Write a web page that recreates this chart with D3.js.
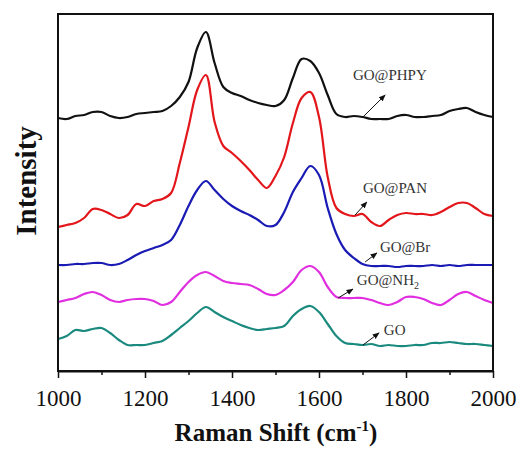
<!DOCTYPE html>
<html>
<head>
<meta charset="utf-8">
<script src="https://cdn.jsdelivr.net/npm/d3@7"></script>
<style>
  body { margin: 0; background: #fff; }
  svg text { font-family: "Liberation Serif", "Times New Roman", serif; }
</style>
</head>
<body>
<div id="chart"></div>
<script>
// Raman shift grid (cm-1)
const shift = [1000,1020,1040,1060,1080,1100,1120,1140,1160,1180,1200,1220,1240,1260,1280,1300,1320,1340,1360,1380,
  1400,1420,1440,1460,1480,1500,1520,1540,1560,1580,1600,1620,1640,1660,1680,1700,1720,1740,1760,1780,
  1800,1820,1840,1860,1880,1900,1920,1940,1960,1980,2000];

// intensities (arbitrary units, curves already offset as in the figure)
const phpy = [253,252,255,256,259,259,255,253,254,257,258,259,260,265,274,289,323,339,308,284,
  278,275,271,268,266,265,271,293,312,310,298,276,257,254,255,254,252,252,252,255,
  256,254,254,255,256,260,262,263,259,256,254];
const pan = [144,146,148,153,162,161,157,153,156,167,165,170,172,178,208,244,281,296,249,225,
  218,210,201,191,183,195,214,248,273,279,254,194,163,157,155,157,149,145,151,156,
  158,157,157,156,159,164,168,168,163,157,155];
const br = [106,106,107,107,108,108,106,107,111,116,120,123,126,131,146,165,181,190,181,172,
  165,160,156,151,145,146,159,179,193,205,196,163,137,121,113,107,105,105,105,104,
  105,105,105,106,105,106,105,106,106,106,106];
const nh2 = [69,71,73,77,79,76,71,69,71,72,72,70,66,69,79,89,96,99,95,90,
  88,87,86,82,77,76,81,89,101,105,99,84,74,73,73,73,71,68,66,69,
  74,74,72,68,66,71,77,79,75,71,68];
const go = [32,35,41,40,42,43,38,31,26,26,26,28,30,36,43,50,58,64,59,54,
  50,46,43,41,42,43,45,55,62,65,59,47,35,28,27,26,27,25,26,25,
  25,26,26,28,28,29,28,27,27,26,25];

const seriesNames = ["GO@PHPY", "GO@PAN", "GO@Br", "GO@NH2", "GO"];
const seriesColors = ["#111111", "#e3161b", "#1a1ab4", "#e02ee0", "#1b8a7e"];

// label anchor (shift, intensity) and arrow tail/head
const labelPos = [[1678,291],[1701,178],[1740,119],[1687,86],[1749,36]];
const arrowFrom = [[1701,254],[1683,156],[1706,109],[1644,73],[1701,26]];
const arrowTo = [[1752,276],[1710,169],[1733,118],[1678,82],[1738,38]];

const xTicks = [1000,1200,1400,1600,1800,2000];
const xMinor = [1100,1300,1500,1700,1900];

let width = 523;
let height = 450;
let margin = {left: 58, right: 30, top: 14, bottom: 79};

let x = d3.scaleLinear().domain([1000, 2000]).range([margin.left, width - margin.right]);
let y = d3.scaleLinear().domain([0, 357]).range([height - margin.bottom, margin.top]);

let viz = d3.select("#chart")
  .append("svg")
    .attr("width", width)
    .attr("height", height)
;

viz.append("defs").append("marker")
    .attr("id", "head")
    .attr("viewBox", "0 0 10 10")
    .attr("refX", 9)
    .attr("refY", 5)
    .attr("markerWidth", 7)
    .attr("markerHeight", 7)
    .attr("orient", "auto")
  .append("path")
    .attr("d", "M0,1 L10,5 L0,9 Z")
    .attr("fill", "#111")
;

let allSeries = [phpy, pan, br, nh2, go];

let line = d3.line()
  .x((d, i) => x(shift[i]))
  .y(d => y(d))
  .curve(d3.curveCatmullRom.alpha(0.5));

viz.selectAll("path.spec").data(allSeries)
  .enter()
    .append("path")
    .attr("class", "spec")
    .attr("d", line)
    .attr("fill", "none")
    .attr("stroke", (d, i) => seriesColors[i])
    .attr("stroke-width", 2.2)
    .attr("stroke-linejoin", "round")
;

// frame
viz.append("rect")
  .attr("x", x(1000))
  .attr("y", y(357))
  .attr("width", x(2000) - x(1000))
  .attr("height", y(0) - y(357))
  .attr("fill", "none")
  .attr("stroke", "#111")
  .attr("stroke-width", 2)
;

// x axis
let xAxis = d3.axisBottom(x).tickValues(xTicks).tickFormat(d3.format("d")).tickSize(7).tickSizeOuter(0).tickPadding(12);
let gx = viz.append("g")
  .attr("transform", "translate(0," + y(0) + ")")
  .attr("font-family", "Liberation Serif, serif")
  .call(xAxis);
gx.select(".domain").attr("stroke", "#111").attr("stroke-width", 2);
gx.selectAll(".tick line").attr("stroke", "#111").attr("stroke-width", 1.5);
gx.selectAll(".tick text")
  .attr("font-size", 23)
  .attr("fill", "#111")
  .attr("dy", "0.71em");

let xAxisMinor = d3.axisBottom(x).tickValues(xMinor).tickFormat("").tickSize(4).tickSizeOuter(0);
let gm = viz.append("g")
  .attr("transform", "translate(0," + y(0) + ")")
  .call(xAxisMinor);
gm.select(".domain").remove();
gm.selectAll(".tick line").attr("stroke", "#111").attr("stroke-width", 1.5);

// axis titles
let xt = viz.append("text")
  .attr("x", 276)
  .attr("y", 441)
  .attr("text-anchor", "middle")
  .attr("font-size", 25)
  .attr("font-weight", "bold")
  .attr("fill", "#111");
xt.append("tspan").text("Raman Shift (cm");
xt.append("tspan").attr("font-size", 15).attr("dy", -10).text("-1");
xt.append("tspan").attr("dy", 10).text(")");

viz.append("text")
  .attr("transform", "translate(36,181) rotate(-90)")
  .attr("text-anchor", "middle")
  .attr("font-size", 29)
  .attr("font-weight", "bold")
  .attr("fill", "#111")
  .text("Intensity");

// series labels with arrows
viz.selectAll("line.arrow").data(arrowFrom)
  .enter()
    .append("line")
    .attr("class", "arrow")
    .attr("x1", d => x(d[0]))
    .attr("y1", d => y(d[1]))
    .attr("x2", (d, i) => x(arrowTo[i][0]))
    .attr("y2", (d, i) => y(arrowTo[i][1]))
    .attr("stroke", "#111")
    .attr("stroke-width", 1)
    .attr("marker-end", "url(#head)")
;

let labels = viz.selectAll("text.lab").data(labelPos)
  .enter()
    .append("text")
    .attr("class", "lab")
    .attr("x", d => x(d[0]))
    .attr("y", d => y(d[1]))
    .attr("font-size", 15)
    .attr("fill", "#333")
;

labels.each(function(d, i){
  let t = d3.select(this);
  let name = seriesNames[i];
  if(name == "GO@NH2"){
    t.append("tspan").text("GO@NH");
    t.append("tspan").attr("font-size", 10).attr("dy", 4).text("2");
  } else {
    t.text(name);
  }
});
</script>
</body>
</html>
